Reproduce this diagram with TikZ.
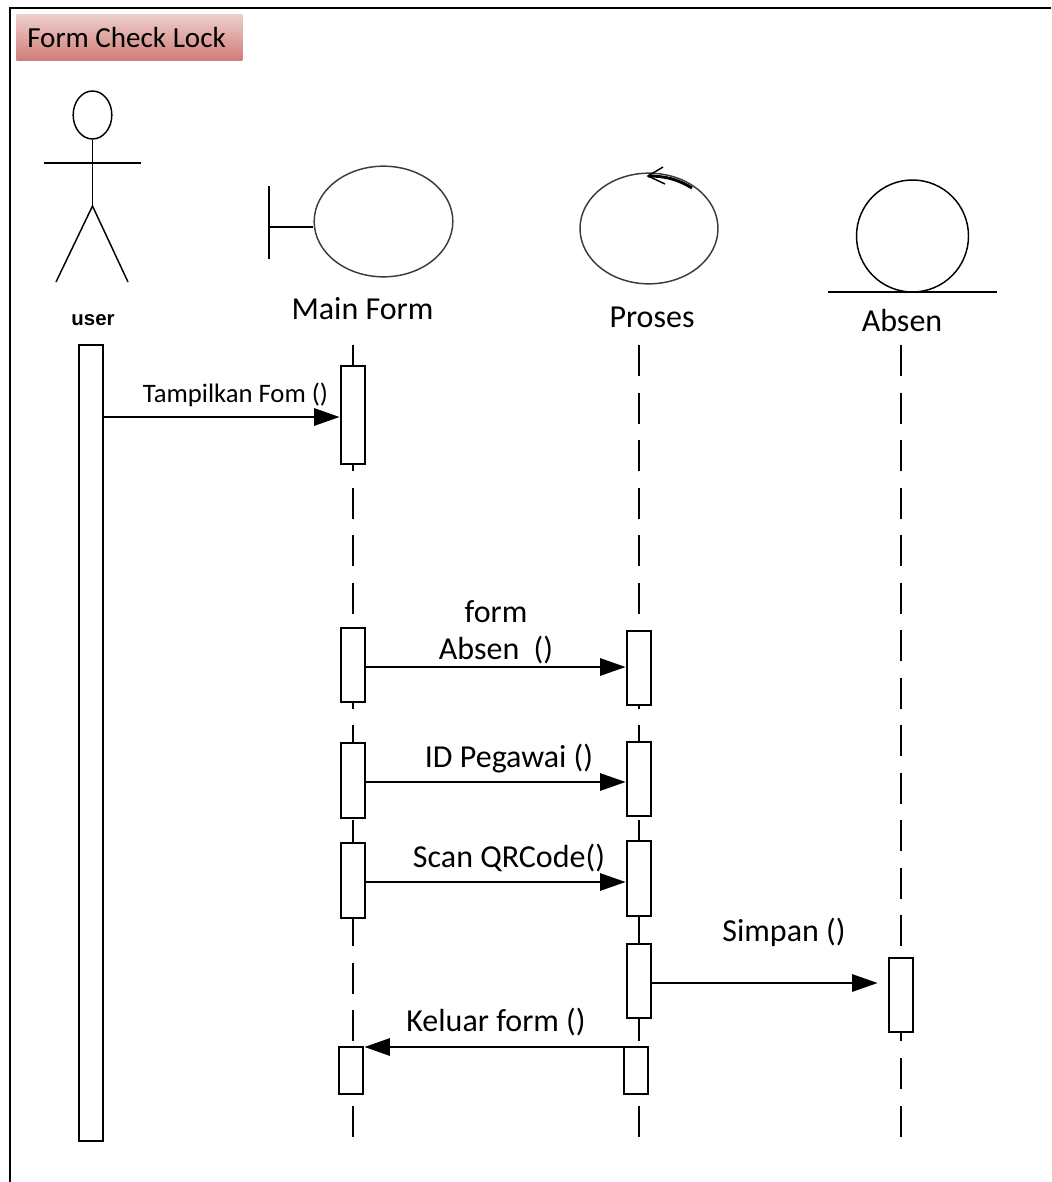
\documentclass[tikz,border=0pt]{standalone}
\usepackage{fontspec}
\setmainfont{Carlito}
\newfontfamily\arialfont{Liberation Sans}
\usepackage{xcolor}
\usetikzlibrary{shapes.geometric,arrows.meta,positioning}
\definecolor{titletop}{RGB}{238,207,204}
\definecolor{titlebot}{RGB}{207,124,117}
\definecolor{softgray}{RGB}{60,60,60}

\begin{document}
\begin{tikzpicture}[x=0.75pt, y=-0.75pt,
    frameline/.style={line width=1.6pt},
    icon/.style={line width=1.1pt},
    softicon/.style={draw=softgray, line width=1.1pt, ellipse, inner sep=0pt},
    life/.style={line width=1pt, dash pattern=on 23.25pt off 12.4pt},
    bar/.style={draw, line width=1.2pt, fill=white, minimum width=18pt,
        minimum height=#1*0.75pt, inner sep=0pt},
    msg/.style={-{Triangle[length=19pt, width=13pt]}, line width=1.2pt},
    lab/.style={font=\fontsize{24}{27.75}\selectfont, inner sep=0pt, anchor=base},
    small/.style={font=\fontsize{20}{24}\selectfont, inner sep=0pt, anchor=base}
]
    \useasboundingbox (0,0) rectangle (1051,1182);

    % Frame, open to the right and below
    \coordinate (frameA) at (10,1182);
    \coordinate (frameB) at (10,8);
    \coordinate (frameC) at (1051,8);
    \draw[frameline] (frameA) -- (frameB) -- (frameC);

    % Title
    \node[top color=titletop, bottom color=titlebot, anchor=north west,
        minimum width=169.5pt, minimum height=35pt, inner sep=0pt,
        font=\fontsize{21.8}{26}\selectfont] (title) at (16,14)
        {\makebox[153pt][l]{Form Check Lock}};

    % Actor
    \node[icon, draw, ellipse, minimum width=29pt, minimum height=36pt, inner sep=0pt] (head) at (92.5,115) {};
    \coordinate (hip) at (92.5,206);
    \coordinate (armL) at (44,163);
    \coordinate (armR) at (141,163);
    \coordinate (footL) at (56,282);
    \coordinate (footR) at (128,282);
    \draw[icon] (head.south) -- (hip);
    \draw[icon] (armL) -- (armR);
    \draw[icon] (footL) -- (hip) -- (footR);
    \node[font=\arialfont\bfseries\fontsize{15.3}{18}\selectfont, inner sep=0pt, anchor=base] (userLab) at (93,325) {user};

    % Boundary
    \node[softicon, draw, minimum width=104pt, minimum height=83pt] (formIcon) at (383.5,221.5) {};
    \coordinate (wallT) at (269,186);
    \coordinate (wallB) at (269,259);
    \coordinate (wallM) at (269,227);
    \draw[icon] (wallT) -- (wallB);
    \draw[icon] (wallM) -- (formIcon.west |- wallM);
    \node[lab] (formLab) at (362.5,319) {Main Form};

    % Control
    \node[softicon, draw, minimum width=103.5pt, minimum height=83pt] (prosIcon) at (649,228.5) {};
    \coordinate (turnA) at (692,188);
    \coordinate (turnB) at (648,176);
    \coordinate (turnC) at (663,167);
    \coordinate (turnD) at (665,184);
    \draw[line width=2.2pt] (turnA) .. controls (677,179) and (665,176) .. (turnB);
    \draw[icon] (turnC) -- (turnB) -- (turnD);
    \node[lab] (prosLab) at (652,327) {Proses};

    % Entity
    \node[icon, draw, circle, minimum size=84pt, inner sep=0pt] (absenIcon) at (912.5,236) {};
    \coordinate (floorL) at (828,292);
    \coordinate (floorR) at (997,292);
    \draw[icon] (floorL) -- (floorR);
    \node[lab] (absenLab) at (902,331) {Absen};

    % Lifelines
    \coordinate (lifeA) at (353,345);
    \coordinate (lifeAe) at (353,1138);
    \coordinate (lifeB) at (639,345);
    \coordinate (lifeBe) at (639,1138);
    \coordinate (lifeC) at (901,345);
    \coordinate (lifeCe) at (901,1138);
    \draw[life] (lifeA) -- (lifeAe);
    \draw[life] (lifeB) -- (lifeBe);
    \draw[life] (lifeC) -- (lifeCe);

    % Activation bars
    \node[bar=796] (userBar) at (91,743) {};
    \node[bar=98] (formA) at (353,415) {};
    \node[bar=74] (formB) at (353,665) {};
    \node[bar=75] (formC) at (353,780.5) {};
    \node[bar=75] (formD) at (353,880.5) {};
    \node[bar=47] (formE) at (351,1070.5) {};
    \node[bar=74] (prosA) at (639,668) {};
    \node[bar=74] (prosB) at (639,779) {};
    \node[bar=75] (prosC) at (639,878.5) {};
    \node[bar=74] (prosD) at (639,981) {};
    \node[bar=47] (prosE) at (636,1070.5) {};
    \node[bar=74] (absenA) at (901,995) {};

    % Messages
    \draw[msg] (userBar.east |- 0,417) -- ([xshift=-0.5pt]formA.west |- 0,417);
    \draw[msg] (formB.east |- 0,667) -- ([xshift=-0.5pt]prosA.west |- 0,667);
    \draw[msg] (formC.east |- 0,782) -- ([xshift=-0.5pt]prosB.west |- 0,782);
    \draw[msg] (formD.east |- 0,882) -- ([xshift=-0.5pt]prosC.west |- 0,882);
    \draw[msg] (prosD.east |- 0,983) -- ([xshift=-8pt]absenA.west |- 0,983);
    \draw[msg] (prosE.west |- 0,1047) -- ([xshift=0.5pt]formE.east |- 0,1047);

    % Message labels
    \node[small] (msgA) at (235.5,402.5) {Tampilkan Fom ()};
    \node[lab, align=center, anchor=center] (msgB) at (496,632) {form\\Absen~~()};
    \node[lab] (msgC) at (509,767) {ID Pegawai ()};
    \node[lab] (msgD) at (509,867) {Scan QRCode()};
    \node[lab] (msgE) at (784,941) {Simpan ()};
    \node[lab] (msgF) at (496,1031) {Keluar form ()};
\end{tikzpicture}
\end{document}
